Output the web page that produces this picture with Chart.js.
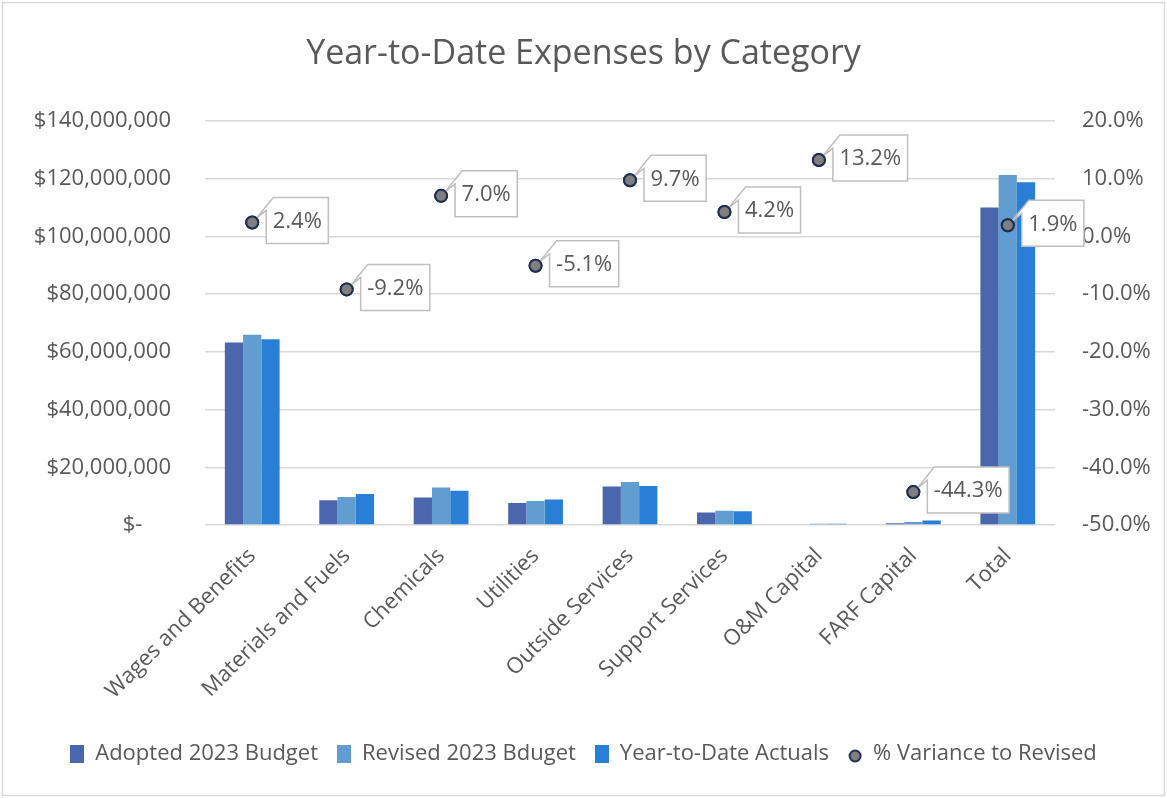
<!DOCTYPE html>
<html>
<head>
<meta charset="utf-8">
<title>Year-to-Date Expenses by Category</title>
<script src="https://cdn.jsdelivr.net/npm/chart.js@4/dist/chart.umd.min.js"></script>
<style>
  html, body { margin: 0; padding: 0; background: #fff; }
  #wrap { width: 1167px; height: 798px; }
</style>
</head>
<body>
<div id="wrap"><canvas id="expenses" width="1167" height="798"></canvas></div>
<script>
// categories and values (dollars, variance in %)
const categories = ['Wages and Benefits', 'Materials and Fuels', 'Chemicals', 'Utilities',
    'Outside Services', 'Support Services', 'O&M Capital', 'FARF Capital', 'Total'];
const adoptedBudget = [63200000, 8600000, 9500000, 7600000, 13300000, 4300000, 0, 600000, 110000000];
const revisedBudget = [65900000, 9700000, 13000000, 8300000, 14900000, 4900000, 450000, 1000000, 121200000];
const ytdActuals = [64300000, 10700000, 11900000, 8800000, 13500000, 4800000, 400000, 1600000, 118700000];
const variancePct = [2.4, -9.2, 7.0, -5.1, 9.7, 4.2, 13.2, -44.3, 1.9];
const leftTicks = [0, 20000000, 40000000, 60000000, 80000000, 100000000, 120000000, 140000000];
const rightTicks = [-50, -40, -30, -20, -10, 0, 10, 20];

const FONT = '"Open Sans", "Noto Sans", sans-serif';
const TEXT = '#595959';
const COLORS = { adopted: '#4A66AC', revised: '#629DD1', actuals: '#297FD5' };

function swatch(w, h, draw) {
    const c = document.createElement('canvas');
    c.width = w; c.height = h;
    draw(c.getContext('2d'));
    return c;
}
const rectIcon = color => swatch(14, 18, g => { g.fillStyle = color; g.fillRect(0, 0, 14, 18); });
const dotIcon = swatch(16, 18, g => {
    g.beginPath(); g.arc(8, 11, 5.5, 0, Math.PI * 2);
    g.fillStyle = '#7F7F7F'; g.fill();
    g.lineWidth = 2; g.strokeStyle = '#1F2D50'; g.stroke();
});
// indexed by dataset
const legendIcons = [rectIcon(COLORS.adopted), rectIcon(COLORS.revised), rectIcon(COLORS.actuals), dotIcon];

// white background + thin frame
const frame = {
    id: 'frame',
    beforeDraw(chart) {
        const { ctx, width, height } = chart;
        ctx.save();
        ctx.fillStyle = '#fff';
        ctx.fillRect(0, 0, width, height);
        ctx.strokeStyle = '#D9D9D9';
        ctx.lineWidth = 1.5;
        ctx.strokeRect(2.5, 2.5, width - 5, height - 5);
        ctx.restore();
    }
};

// boxed labels with a pointer for the variance markers
const callouts = {
    id: 'callouts',
    afterDatasetsDraw(chart) {
        const meta = chart.getDatasetMeta(3);
        const { ctx } = chart;
        ctx.save();
        ctx.font = '22px ' + FONT;
        meta.data.forEach((pt, i) => {
            const txt = variancePct[i].toFixed(1) + '%';
            const w = ctx.measureText(txt).width + 13;
            const h = 46;
            const bx = pt.x + 14;
            const by = pt.y - 25;
            ctx.beginPath();
            ctx.moveTo(bx + 7, by);
            ctx.lineTo(bx + w, by);
            ctx.lineTo(bx + w, by + h);
            ctx.lineTo(bx, by + h);
            ctx.lineTo(bx, by + 13);
            ctx.lineTo(pt.x + 4, pt.y - 4);
            ctx.closePath();
            ctx.fillStyle = '#fff';
            ctx.fill();
            ctx.strokeStyle = '#BFBFBF';
            ctx.lineWidth = 1.5;
            ctx.stroke();
            ctx.fillStyle = TEXT;
            ctx.textAlign = 'center';
            ctx.textBaseline = 'middle';
            ctx.fillText(txt, bx + w / 2, by + h / 2 + 1);
        });
        ctx.restore();
        // markers back on top of the boxes
        meta.data.forEach(pt => pt.draw(ctx, chart.chartArea));
    }
};

const barBase = { categoryPercentage: 0.58, barPercentage: 1.0, yAxisID: 'y', order: 1, borderWidth: 0 };

new Chart(document.getElementById('expenses'), {
    type: 'bar',
    data: {
        labels: categories,
        datasets: [
            { ...barBase, label: 'Adopted 2023 Budget', data: adoptedBudget, backgroundColor: COLORS.adopted },
            { ...barBase, label: 'Revised 2023 Bduget', data: revisedBudget, backgroundColor: COLORS.revised },
            { ...barBase, label: 'Year-to-Date Actuals', data: ytdActuals, backgroundColor: COLORS.actuals },
            {
                type: 'line',
                label: '% Variance to Revised',
                data: variancePct,
                yAxisID: 'y1',
                order: 0,
                showLine: false,
                pointRadius: 6,
                pointBackgroundColor: '#7F7F7F',
                pointBorderColor: '#1F2D50',
                pointBorderWidth: 2
            }
        ]
    },
    options: {
        responsive: false,
        animation: false,
        layout: { padding: { left: 0, right: 0, top: 0, bottom: 23 } },
        plugins: {
            title: {
                display: true,
                text: 'Year-to-Date Expenses by Category',
                color: TEXT,
                font: { family: FONT, size: 34, weight: 'normal' },
                padding: { top: 34, bottom: 46 }
            },
            legend: {
                position: 'bottom',
                labels: {
                    color: TEXT,
                    font: { family: FONT, size: 22 },
                    usePointStyle: true,
                    boxWidth: 14,
                    boxHeight: 18,
                    padding: 19,
                    sort: (a, b) => a.datasetIndex - b.datasetIndex,
                    generateLabels: chart =>
                        Chart.defaults.plugins.legend.labels.generateLabels(chart)
                            .map(item => ({ ...item, pointStyle: legendIcons[item.datasetIndex] }))
                }
            },
            tooltip: { enabled: false }
        },
        scales: {
            x: {
                grid: { display: false },
                border: { display: false },
                ticks: {
                    color: TEXT,
                    font: { family: FONT, size: 22 },
                    minRotation: 45,
                    maxRotation: 45,
                    padding: 10
                },
                afterFit: s => { s.height = 199; }
            },
            y: {
                position: 'left',
                min: 0,
                max: 140000000,
                afterBuildTicks: s => { s.ticks = leftTicks.map(v => ({ value: v })); },
                grid: { color: '#D9D9D9', lineWidth: 1.5, drawTicks: false },
                border: { display: false },
                ticks: {
                    color: TEXT,
                    font: { family: FONT, size: 22 },
                    padding: 34,
                    callback: v => v === 0 ? '$-     ' : '$' + Number(v).toLocaleString('en-US')
                },
                afterFit: s => { s.width = 205; }
            },
            y1: {
                position: 'right',
                min: -50,
                max: 20,
                afterBuildTicks: s => { s.ticks = rightTicks.map(v => ({ value: v })); },
                grid: { display: false, drawTicks: false },
                border: { display: false },
                ticks: {
                    color: TEXT,
                    font: { family: FONT, size: 22 },
                    padding: 27,
                    callback: v => Number(v).toFixed(1) + '%'
                },
                afterFit: s => { s.width = 112; }
            }
        }
    },
    plugins: [frame, callouts]
});
</script>
</body>
</html>
